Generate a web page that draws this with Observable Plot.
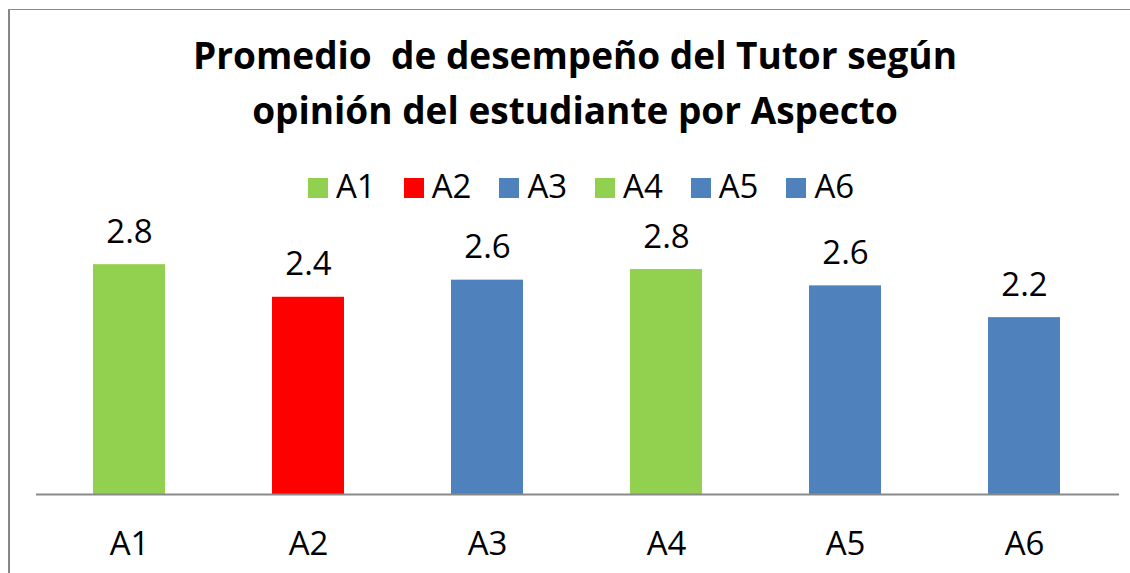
<!DOCTYPE html>
<html>
<head>
<meta charset="utf-8">
<script src="https://cdn.jsdelivr.net/npm/d3@7"></script>
<script src="https://cdn.jsdelivr.net/npm/@observablehq/plot@0.6"></script>
<style>
  html, body { margin: 0; padding: 0; background: #fff; }
  #wrap { position: relative; width: 1130px; height: 573px; overflow: hidden; background: #fff; font-family: "Open Sans", sans-serif; }
  #bl { position: absolute; left: 8px; top: 9px; width: 2px; height: 564px; background: #868686; }
  #bt { position: absolute; left: 8px; top: 9px; width: 1122px; height: 1px; background: #8a8a8a; }
  #title { position: absolute; left: 20px; top: 27px; width: 1110px; text-align: center; font-weight: 700; font-size: 37px; line-height: 55px; color: #000; white-space: nowrap; }
  #legend { position: absolute; left: 308px; top: 171px; font-size: 33px; line-height: 30px; white-space: nowrap; color: #000; z-index: 2; }
  .item { display: inline-block; width: 95.7px; }
  .item:last-child { width: auto; }
  .sw { display: inline-block; width: 20px; height: 20px; margin-right: 8px; }
  #chart { position: absolute; left: 0; top: 205px; }
</style>
</head>
<body>
<div id="wrap">
  <div id="bl"></div>
  <div id="bt"></div>
  <div id="title">Promedio&nbsp; de desempeño del Tutor según<br>opinión del estudiante por Aspecto</div>
  <div id="chart"></div>
  <div id="legend"></div>
</div>
<script>
const categories = ["A1", "A2", "A3", "A4", "A5", "A6"];
const values = [2.82, 2.42, 2.63, 2.76, 2.56, 2.17];
const palette = ["#92D050", "#FF0000", "#4F81BD", "#92D050", "#4F81BD", "#4F81BD"];

const data = categories.map((c, i) => ({cat: c, value: values[i]}));

const legend = document.getElementById("legend");
categories.forEach((c, i) => {
  const it = document.createElement("span");
  it.className = "item";
  const sw = document.createElement("span");
  sw.className = "sw";
  sw.style.background = palette[i];
  it.appendChild(sw);
  it.appendChild(document.createTextNode(c));
  legend.appendChild(it);
});

const H = 368, baseY = 289, unit = 81.5, yMax = 3.4;
const chart = Plot.plot({
  width: 1130,
  height: H,
  marginLeft: 38,
  marginRight: 16,
  marginBottom: H - baseY,
  marginTop: baseY - yMax * unit,
  style: {fontFamily: "Open Sans, sans-serif", background: "transparent", color: "#000", overflow: "visible"},
  x: {domain: categories, paddingInner: 0.6, paddingOuter: 0.3, label: null, tickSize: 0, tickPadding: 37},
  y: {domain: [0, yMax], axis: null},
  color: {domain: categories, range: palette},
  marks: [
    Plot.barY(data, {x: "cat", y: "value", fill: "cat"}),
    Plot.ruleY([0], {stroke: "#898989", strokeWidth: 2, insetRight: -5, insetLeft: -2}),
    Plot.text(data, {x: "cat", y: "value", text: d => d.value.toFixed(1), dy: -32.6, fontSize: 33, fill: "#000"}),
    Plot.axisX({tickSize: 0, tickPadding: 37, fontSize: 33, label: null})
  ]
});
document.getElementById("chart").appendChild(chart);
</script>
</body>
</html>
